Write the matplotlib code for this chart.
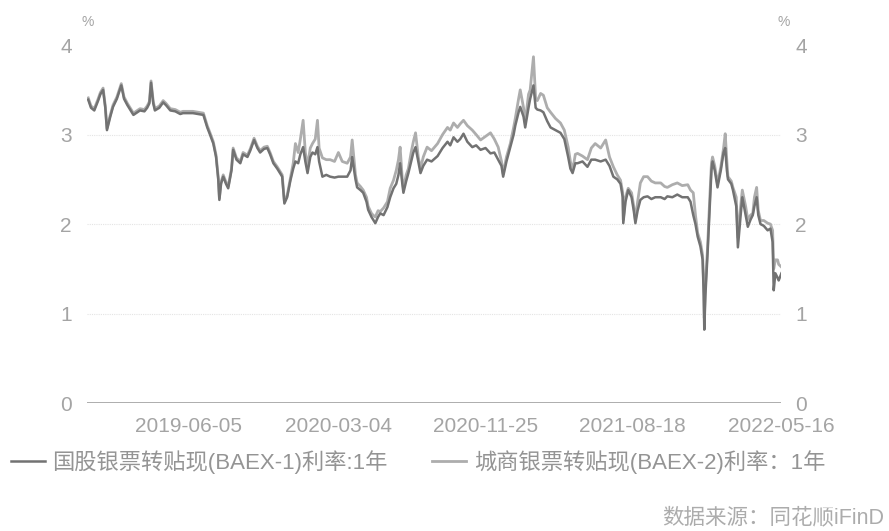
import matplotlib
matplotlib.use("Agg")
import matplotlib.pyplot as plt
import matplotlib.dates as mdates
import pandas as pd

plt.rcParams["font.family"] = ["Liberation Sans", "Noto Sans CJK SC", "DejaVu Sans"]

# 1-year rediscount rates (%), readings by date
dates = [
    "2018-12-05", "2018-12-10", "2018-12-16", "2018-12-23", "2018-12-27", "2019-01-01", "2019-01-05", "2019-01-08", "2019-01-14", "2019-01-19",
    "2019-01-26", "2019-02-03", "2019-02-08", "2019-02-14", "2019-02-19", "2019-02-25", "2019-03-04", "2019-03-09", "2019-03-17", "2019-03-22",
    "2019-03-26", "2019-03-29", "2019-04-02", "2019-04-05", "2019-04-13", "2019-04-20", "2019-04-25", "2019-05-03", "2019-05-12", "2019-05-21",
    "2019-05-26", "2019-06-04", "2019-06-13", "2019-06-23", "2019-07-02", "2019-07-09", "2019-07-14", "2019-07-20", "2019-07-25", "2019-07-29",
    "2019-07-31", "2019-08-03", "2019-08-07", "2019-08-12", "2019-08-16", "2019-08-22", "2019-08-25", "2019-08-31", "2019-09-07", "2019-09-12",
    "2019-09-20", "2019-09-25", "2019-10-02", "2019-10-08", "2019-10-13", "2019-10-20", "2019-10-26", "2019-10-31", "2019-11-06", "2019-11-13",
    "2019-11-22", "2019-11-26", "2019-12-01", "2019-12-07",
    "2019-12-12", "2019-12-16", "2019-12-21", "2019-12-25", "2019-12-30", "2020-01-03", "2020-01-07", "2020-01-12", "2020-01-16", "2020-01-21",
    "2020-01-25", "2020-01-28", "2020-02-03", "2020-02-10", "2020-02-17", "2020-02-25", "2020-03-03", "2020-03-10", "2020-03-19", "2020-03-25",
    "2020-03-28", "2020-04-03", "2020-04-06", "2020-04-12", "2020-04-17", "2020-04-23", "2020-04-26", "2020-05-02", "2020-05-05", "2020-05-09",
    "2020-05-14", "2020-05-18", "2020-05-24", "2020-05-31", "2020-06-05", "2020-06-11", "2020-06-16", "2020-06-20", "2020-06-23", "2020-06-27",
    "2020-06-29", "2020-07-04", "2020-07-08", "2020-07-13", "2020-07-17", "2020-07-21", "2020-07-26", "2020-07-30", "2020-08-04", "2020-08-11",
    "2020-08-19", "2020-08-30", "2020-09-08", "2020-09-17", "2020-09-22", "2020-09-28", "2020-10-05", "2020-10-10", "2020-10-16", "2020-10-23",
    "2020-11-01", "2020-11-08", "2020-11-16", "2020-11-25", "2020-12-04", "2020-12-11", "2020-12-18", "2020-12-24", "2020-12-27", "2021-01-02",
    "2021-01-09", "2021-01-15", "2021-01-18", "2021-01-24", "2021-01-27", "2021-02-02", "2021-02-05", "2021-02-11", "2021-02-14", "2021-02-20",
    "2021-02-24", "2021-02-27", "2021-03-05", "2021-03-10", "2021-03-17", "2021-03-23", "2021-04-01", "2021-04-10", "2021-04-17", "2021-04-24",
    "2021-04-28", "2021-05-02", "2021-05-07", "2021-05-11", "2021-05-20", "2021-05-29", "2021-06-05", "2021-06-12", "2021-06-22", "2021-07-01",
    "2021-07-08", "2021-07-15", "2021-07-22", "2021-07-28", "2021-08-01", "2021-08-02", "2021-08-06", "2021-08-11", "2021-08-17", "2021-08-21",
    "2021-08-24", "2021-08-28", "2021-09-02", "2021-09-08", "2021-09-15", "2021-09-22", "2021-09-29", "2021-10-09", "2021-10-16", "2021-10-21",
    "2021-10-30", "2021-11-08", "2021-11-17", "2021-11-27", "2021-12-02", "2021-12-07", "2021-12-11", "2021-12-15", "2021-12-20", "2021-12-24",
    "2021-12-26", "2021-12-27", "2021-12-29", "2022-01-02", "2022-01-06", "2022-01-09", "2022-01-11", "2022-01-15", "2022-01-20", "2022-01-26",
    "2022-01-31", "2022-02-03", "2022-02-06", "2022-02-08", "2022-02-14", "2022-02-17", "2022-02-23", "2022-02-26", "2022-03-03", "2022-03-06",
    "2022-03-12", "2022-03-16", "2022-03-21", "2022-03-25", "2022-03-28", "2022-04-01", "2022-04-04", "2022-04-08", "2022-04-14", "2022-04-21",
    "2022-04-26", "2022-04-30", "2022-05-02", "2022-05-05", "2022-05-09", "2022-05-11", "2022-05-16",
]

# 国股银票转贴现(BAEX-1)
baex1 = [
    3.39, 3.30, 3.27, 3.38, 3.45, 3.50, 3.30, 3.05, 3.20, 3.31,
    3.40, 3.55, 3.40, 3.33, 3.28, 3.22, 3.25, 3.27, 3.26, 3.30,
    3.35, 3.58, 3.35, 3.27, 3.30, 3.36, 3.33, 3.27, 3.26, 3.23,
    3.24, 3.24, 3.24, 3.23, 3.22, 3.08, 3.00, 2.90, 2.75, 2.50,
    2.27, 2.45, 2.53, 2.45, 2.40, 2.60, 2.83, 2.72, 2.68, 2.78,
    2.75, 2.82, 2.94, 2.85, 2.80, 2.84, 2.85, 2.78, 2.68, 2.62,
    2.53, 2.23, 2.30, 2.49,
    2.62, 2.70, 2.68, 2.78, 2.86, 2.70, 2.57, 2.75, 2.80, 2.78,
    2.86, 2.70, 2.53, 2.55, 2.53, 2.52, 2.53, 2.53, 2.53, 2.60,
    2.75, 2.50, 2.41, 2.38, 2.35, 2.25, 2.16, 2.08, 2.05, 2.01,
    2.08, 2.12, 2.10, 2.19, 2.30, 2.40, 2.45, 2.55, 2.68, 2.45,
    2.35, 2.48, 2.57, 2.70, 2.80, 2.86, 2.70, 2.57, 2.65, 2.72,
    2.70, 2.76, 2.85, 2.92, 2.88, 2.97, 2.92, 2.95, 3.01, 2.92,
    2.86, 2.88, 2.83, 2.85, 2.79, 2.80, 2.72, 2.65, 2.53, 2.70,
    2.86, 3.00, 3.10, 3.25, 3.31, 3.20, 3.08, 3.30, 3.40, 3.55,
    3.30, 3.28, 3.27, 3.25, 3.15, 3.08, 3.05, 3.02, 2.95, 2.75,
    2.62, 2.57, 2.68, 2.68, 2.70, 2.64, 2.72, 2.72, 2.70, 2.72,
    2.65, 2.53, 2.50, 2.45, 2.30, 2.01, 2.25, 2.38, 2.30, 2.15,
    2.01, 2.15, 2.27, 2.30, 2.31, 2.28, 2.30, 2.30, 2.28, 2.31,
    2.30, 2.33, 2.30, 2.30, 2.25, 2.10, 2.00, 1.86, 1.75, 1.60,
    1.20, 0.82, 1.20, 1.68, 2.20, 2.60, 2.70, 2.60, 2.41, 2.60,
    2.80, 2.85, 2.60, 2.50, 2.45, 2.38, 2.20, 1.74, 2.10, 2.30,
    2.10, 1.97, 2.05, 2.10, 2.20, 2.30, 2.10, 2.00, 1.98, 1.93,
    1.95, 1.80, 1.26, 1.45, 1.40, 1.37, 1.45,
]

# 城商银票转贴现(BAEX-2)
baex2 = [
    3.41, 3.32, 3.29, 3.40, 3.47, 3.52, 3.32, 3.07, 3.22, 3.33,
    3.42, 3.57, 3.42, 3.35, 3.30, 3.24, 3.27, 3.29, 3.28, 3.32,
    3.37, 3.60, 3.37, 3.29, 3.32, 3.38, 3.35, 3.29, 3.28, 3.25,
    3.26, 3.26, 3.26, 3.25, 3.24, 3.10, 3.02, 2.92, 2.77, 2.52,
    2.29, 2.47, 2.55, 2.47, 2.42, 2.62, 2.85, 2.74, 2.70, 2.80,
    2.77, 2.84, 2.96, 2.87, 2.82, 2.86, 2.87, 2.80, 2.70, 2.64,
    2.55, 2.25, 2.32, 2.52,
    2.68, 2.90, 2.80, 2.95, 3.16, 2.80, 2.65, 2.85, 2.90, 2.95,
    3.16, 2.85, 2.74, 2.72, 2.72, 2.70, 2.80, 2.70, 2.68, 2.75,
    2.94, 2.55, 2.46, 2.42, 2.38, 2.30, 2.20, 2.12, 2.10, 2.08,
    2.15, 2.14, 2.18, 2.25, 2.40, 2.49, 2.60, 2.72, 2.86, 2.50,
    2.40, 2.55, 2.62, 2.80, 2.92, 3.02, 2.75, 2.62, 2.75, 2.86,
    2.82, 2.90, 3.00, 3.08, 3.05, 3.13, 3.08, 3.12, 3.16, 3.10,
    3.05, 3.00, 2.94, 2.98, 3.02, 2.95, 2.86, 2.70, 2.56, 2.75,
    2.90, 3.08, 3.18, 3.40, 3.50, 3.30, 3.13, 3.45, 3.50, 3.87,
    3.40, 3.38, 3.46, 3.44, 3.30, 3.25, 3.18, 3.13, 3.05, 2.86,
    2.70, 2.60, 2.78, 2.79, 2.76, 2.72, 2.85, 2.90, 2.85, 2.94,
    2.75, 2.64, 2.55, 2.49, 2.35, 2.05, 2.30, 2.40, 2.35, 2.20,
    2.04, 2.25, 2.46, 2.53, 2.53, 2.48, 2.46, 2.46, 2.42, 2.41,
    2.44, 2.46, 2.43, 2.44, 2.38, 2.35, 2.10, 1.90, 1.80, 1.65,
    1.30, 0.95, 1.30, 1.75, 2.30, 2.68, 2.75, 2.65, 2.45, 2.64,
    2.85, 3.01, 2.70, 2.53, 2.48, 2.41, 2.30, 1.85, 2.20, 2.38,
    2.20, 2.05, 2.10, 2.12, 2.30, 2.41, 2.15, 2.04, 2.04, 2.01,
    2.00, 1.93, 1.50, 1.60, 1.60, 1.55, 1.52,
]

tick_dates = ["2019-06-05", "2020-03-04", "2020-11-25", "2021-08-18", "2022-05-16"]
series_names = ["国股银票转贴现(BAEX-1)利率:1年", "城商银票转贴现(BAEX-2)利率：1年"]
source_text = "数据来源：同花顺iFinD"

x = pd.to_datetime(dates)
text_grey = "#a4a4a4"
dark_grey = "#727272"
light_grey = "#adadad"

fig = plt.figure(figsize=(8.89, 5.31), dpi=100)
ax = fig.add_axes([0.098, 0.241, 0.781, 0.674])

l2, = ax.plot(x, baex2, color=light_grey, lw=2.0, zorder=3)
l1, = ax.plot(x, baex1, color=dark_grey, lw=1.8, zorder=4)

ax.set_xlim(pd.Timestamp("2018-12-03"), pd.Timestamp("2022-05-16"))
ax.set_ylim(0, 4)
ax.set_yticks([0, 1, 2, 3, 4])
ax.set_xticks(pd.to_datetime(tick_dates))
ax.xaxis.set_major_formatter(mdates.DateFormatter("%Y-%m-%d"))

# faint gridlines, solid baseline
for v in [1, 2, 3]:
    ax.axhline(v, color="#e4e4e4", lw=0.8, ls=(0, (1, 1)), zorder=1)
ax.axhline(0, color="#a0a0a0", lw=1.2, zorder=2)

for s in ax.spines.values():
    s.set_visible(False)
ax.tick_params(axis="both", length=0, colors=text_grey, labelsize=15)
ax.tick_params(axis="y", pad=11)
ax.tick_params(axis="x", pad=10)

# mirrored right-hand scale
ax2 = ax.twinx()
ax2.set_ylim(ax.get_ylim())
ax2.set_yticks([0, 1, 2, 3, 4])
for s in ax2.spines.values():
    s.set_visible(False)
ax2.tick_params(axis="y", length=0, colors=text_grey, labelsize=15, pad=10)

fig.text(0.099, 0.958, "%", color=text_grey, fontsize=10, ha="center", va="center")
fig.text(0.881, 0.958, "%", color=text_grey, fontsize=10, ha="center", va="center")

fig.legend([l1, l2], series_names, loc="center left", bbox_to_anchor=(0.002, 0.13),
           ncol=2, frameon=False, fontsize=16, labelcolor="#949494",
           handlelength=1.55, handletextpad=0.32, columnspacing=2.0, borderaxespad=0)

fig.text(0.995, 0.025, source_text, color="#acacac", fontsize=15.5, ha="right", va="center")

fig.savefig("out.png", dpi=100)
